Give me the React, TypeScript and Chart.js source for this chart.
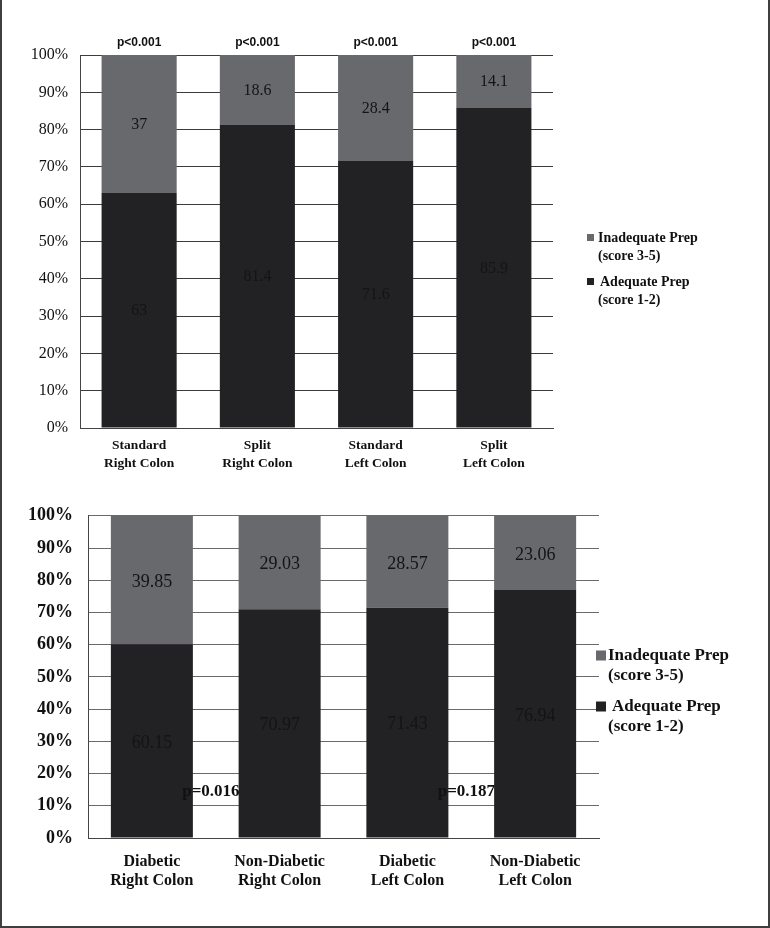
import React, { useEffect, useRef } from "react";
import { Chart, registerables } from "chart.js";

Chart.register(...registerables);

// ---------- data ----------
const topCategories = [
  ["Standard", "Right Colon"],
  ["Split", "Right Colon"],
  ["Standard", "Left Colon"],
  ["Split", "Left Colon"],
];
const topAdequate = [63, 81.4, 71.6, 85.9];
const topInadequate = [37, 18.6, 28.4, 14.1];
const topPValues = ["p<0.001", "p<0.001", "p<0.001", "p<0.001"];

const bottomCategories = [
  ["Diabetic", "Right Colon"],
  ["Non-Diabetic", "Right Colon"],
  ["Diabetic", "Left Colon"],
  ["Non-Diabetic", "Left Colon"],
];
const bottomAdequate = [60.15, 70.97, 71.43, 76.94];
const bottomInadequate = [39.85, 29.03, 28.57, 23.06];
const bottomPValues = ["p=0.016", "p=0.187"];
const bottomPValueBars = [1, 3];
const bottomPValueLevel = 14.5;

const seriesInadequate = ["Inadequate Prep", "(score 3-5)"];
const seriesAdequate = ["Adequate Prep", "(score 1-2)"];
const yTickValues = [0, 10, 20, 30, 40, 50, 60, 70, 80, 90, 100];

const COLOR_INADEQUATE = "#68696d";
const COLOR_ADEQUATE = "#222224";
const SERIF = "'Liberation Serif', serif";

// ---------- plugins ----------
const segmentLabels = {
  id: "segmentLabels",
  afterDatasetsDraw(chart: any, _args: any, opts: any) {
    const ctx = chart.ctx;
    ctx.save();
    ctx.font = opts.font;
    ctx.fillStyle = opts.color;
    ctx.textAlign = "center";
    ctx.textBaseline = "middle";
    chart.data.datasets.forEach((ds: any, di: number) => {
      const meta = chart.getDatasetMeta(di);
      meta.data.forEach((bar: any, i: number) => {
        const y = (bar.y + bar.base) / 2 + (opts.dy || 0);
        ctx.fillText(String(ds.data[i]), bar.x, y);
      });
    });
    ctx.restore();
  },
};

const pValueLabels = {
  id: "pValueLabels",
  afterDatasetsDraw(chart: any, _args: any, opts: any) {
    const ctx = chart.ctx;
    ctx.save();
    ctx.font = opts.font;
    ctx.fillStyle = "#111";
    ctx.textBaseline = "middle";
    const meta = chart.getDatasetMeta(0);
    if (opts.mode === "above") {
      ctx.textAlign = "center";
      opts.texts.forEach((t: string, i: number) => {
        const bar: any = meta.data[i];
        ctx.fillText(t, bar.x, chart.chartArea.top + opts.dy);
      });
    } else {
      ctx.textAlign = "right";
      const y = chart.scales.y.getPixelForValue(opts.level);
      opts.texts.forEach((t: string, i: number) => {
        const bar: any = meta.data[opts.bars[i]];
        const w = bar.width;
        ctx.fillText(t, bar.x - w / 2 + 1, y);
      });
    }
    ctx.restore();
  },
};

const sideLegend = {
  id: "sideLegend",
  afterDraw(chart: any, _args: any, opts: any) {
    const ctx = chart.ctx;
    ctx.save();
    ctx.font = opts.font;
    ctx.fillStyle = "#111";
    ctx.textAlign = "left";
    ctx.textBaseline = "middle";
    const order = [1, 0];
    order.forEach((di, k) => {
      const ds = chart.data.datasets[di];
      const y = opts.itemY[k];
      ctx.fillStyle = ds.backgroundColor;
      ctx.fillRect(opts.boxX, y - opts.box / 2 - 0.5, opts.box, opts.box);
      ctx.fillStyle = "#111";
      const lines: string[] = ds.legendLines;
      lines.forEach((ln, li) => {
        const x = opts.textX + (li === 0 ? opts.firstIndent[k] : 0);
        ctx.fillText(ln, x, y + li * opts.lineGap);
      });
    });
    ctx.restore();
  },
};

function buildConfig(p: {
  categories: string[][];
  adequate: number[];
  inadequate: number[];
  barPct: number;
  padTop: number;
  padRight: number;
  yWidth: number;
  xHeight: number;
  yTickFont: any;
  yTickPad: number;
  xTickFont: any;
  xTickPad: number;
  gridColor: string;
  segFont: string;
  segDy: number;
  pv: any;
  legend: any;
}) {
  return {
    type: "bar" as const,
    data: {
      labels: p.categories,
      datasets: [
        {
          label: seriesAdequate.join(" "),
          legendLines: seriesAdequate,
          data: p.adequate,
          backgroundColor: COLOR_ADEQUATE,
          barPercentage: p.barPct,
          categoryPercentage: 1,
        },
        {
          label: seriesInadequate.join(" "),
          legendLines: seriesInadequate,
          data: p.inadequate,
          backgroundColor: COLOR_INADEQUATE,
          barPercentage: p.barPct,
          categoryPercentage: 1,
        },
      ],
    },
    options: {
      responsive: false,
      animation: false,
      devicePixelRatio: 1,
      layout: { padding: { top: p.padTop, right: p.padRight, left: 0, bottom: 0 } },
      plugins: {
        legend: { display: false },
        tooltip: { enabled: false },
        segmentLabels: { font: p.segFont, color: "#141414", dy: p.segDy },
        pValueLabels: p.pv,
        sideLegend: p.legend,
      },
      scales: {
        x: {
          stacked: true,
          grid: { display: false, drawTicks: false },
          border: { display: true, color: "#444", width: 1 },
          ticks: { color: "#111", font: p.xTickFont, padding: p.xTickPad, maxRotation: 0, autoSkip: false },
          afterFit: (s: any) => {
            s.height = p.xHeight;
          },
        },
        y: {
          stacked: true,
          min: 0,
          max: 100,
          afterBuildTicks: (s: any) => {
            s.ticks = yTickValues.map((v) => ({ value: v }));
          },
          grid: { color: p.gridColor, lineWidth: 1, drawTicks: false },
          border: { display: true, color: "#444", width: 1 },
          ticks: {
            color: "#111",
            font: p.yTickFont,
            padding: p.yTickPad,
            callback: (v: any) => v + "%",
          },
          afterFit: (s: any) => {
            s.width = p.yWidth;
          },
        },
      },
    },
    plugins: [segmentLabels, pValueLabels, sideLegend],
  };
}

function ChartCanvas({ config, width, height, top }: any) {
  const ref = useRef<HTMLCanvasElement>(null);
  useEffect(() => {
    if (!ref.current) return;
    const chart = new Chart(ref.current, config as any);
    return () => chart.destroy();
  }, []);
  return (
    <canvas
      ref={ref}
      width={width}
      height={height}
      style={{ position: "absolute", left: 0, top, width, height, display: "block" }}
    />
  );
}

export default function App() {
  const topConfig = buildConfig({
    categories: topCategories,
    adequate: topAdequate,
    inadequate: topInadequate,
    barPct: 0.635,
    padTop: 55,
    padRight: 217,
    yWidth: 80,
    xHeight: 62,
    yTickFont: { family: SERIF, size: 16 },
    yTickPad: 12,
    xTickFont: { family: SERIF, size: 13.5, weight: "bold", lineHeight: 18 / 13.5 },
    xTickPad: 9,
    gridColor: "#3c3c3c",
    segFont: `16px ${SERIF}`,
    segDy: 1,
    pv: { mode: "above", texts: topPValues, font: "bold 12px 'Liberation Sans', sans-serif", dy: -12 },
    legend: {
      font: `bold 14px ${SERIF}`,
      boxX: 587,
      box: 7,
      textX: 598,
      firstIndent: [0, 2],
      itemY: [238, 282],
      lineGap: 18,
    },
  });

  const bottomConfig = buildConfig({
    categories: bottomCategories,
    adequate: bottomAdequate,
    inadequate: bottomInadequate,
    barPct: 0.642,
    padTop: 21,
    padRight: 171,
    yWidth: 88,
    xHeight: 90,
    yTickFont: { family: SERIF, size: 18, weight: "bold" },
    yTickPad: 15,
    xTickFont: { family: SERIF, size: 16, weight: "bold", lineHeight: 19 / 16 },
    xTickPad: 14,
    gridColor: "#6a6a6a",
    segFont: `18px ${SERIF}`,
    segDy: 2,
    pv: {
      mode: "gap",
      texts: bottomPValues,
      bars: bottomPValueBars,
      level: bottomPValueLevel,
      font: `bold 17px ${SERIF}`,
    },
    legend: {
      font: `bold 17px ${SERIF}`,
      boxX: 596,
      box: 10,
      textX: 608,
      firstIndent: [0, 4],
      itemY: [166, 217],
      lineGap: 20,
    },
  });

  return (
    <div style={{ position: "absolute", left: 0, top: 0, width: 770, height: 928, background: "#fff" }}>
      <ChartCanvas config={topConfig} width={770} height={490} top={0} />
      <ChartCanvas config={bottomConfig} width={770} height={438} top={490} />
      <div
        style={{
          position: "absolute",
          left: 0,
          top: 0,
          width: 770,
          height: 928,
          boxSizing: "border-box",
          borderLeft: "2px solid #3f3f3f",
          borderRight: "2px solid #3f3f3f",
          borderBottom: "2px solid #3f3f3f",
          pointerEvents: "none",
        }}
      />
    </div>
  );
}
